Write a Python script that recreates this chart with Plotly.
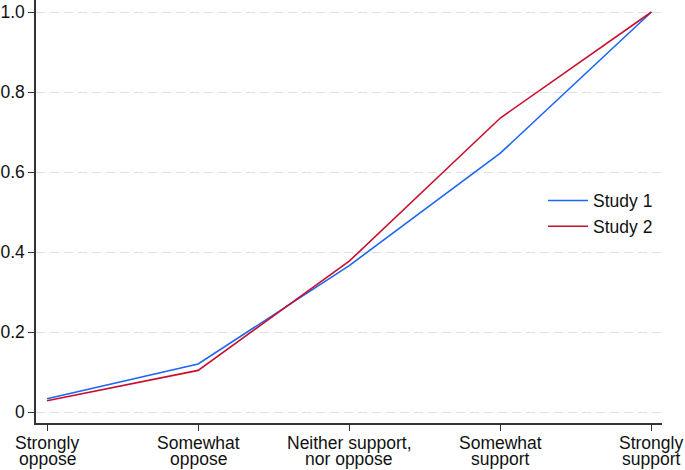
import plotly.graph_objects as go

categories = ["Strongly<br>oppose", "Somewhat<br>oppose", "Neither support,<br>nor oppose", "Somewhat<br>support", "Strongly<br>support"]
study1 = [0.033, 0.120, 0.366, 0.647, 1.0]
study2 = [0.028, 0.104, 0.377, 0.735, 1.0]
yticks = [0, 0.2, 0.4, 0.6, 0.8, 1.0]
yticklabels = ["0", "0.2", "0.4", "0.6", "0.8", "1.0"]

FS = 17.5
W, H = 685, 470
ML, MR, MT, MB = 36, 23, 0, 47
PH = H - MT - MB

xs = list(range(len(categories)))
fig = go.Figure()
fig.add_trace(go.Scatter(x=xs, y=study1, mode="lines", name="Study 1",
                         line=dict(color="#1c66f5", width=1.6)))
fig.add_trace(go.Scatter(x=xs, y=study2, mode="lines", name="Study 2",
                         line=dict(color="#c8102e", width=1.6)))

font = dict(family="Liberation Sans, Arial, Helvetica, sans-serif", size=FS, color="#111111")

# two-line category labels drawn as separate text lines (tight line spacing)
annotations = []
line_centers = [442.5, 458.5]
for xi, lab in zip(xs, categories):
    for li, part in enumerate(lab.split("<br>")):
        annotations.append(dict(
            x=xi, xref="x", y=(H - MB - line_centers[li]) / PH, yref="paper",
            text=part, showarrow=False, xanchor="center", yanchor="middle",
            font=dict(size=FS), align="center",
        ))

fig.update_layout(
    width=W, height=H,
    margin=dict(l=ML, r=MR, t=MT, b=MB),
    plot_bgcolor="white", paper_bgcolor="white",
    font=font,
    showlegend=True,
    legend=dict(x=0.81, y=0.495, xanchor="left", yanchor="middle",
                bgcolor="rgba(0,0,0,0)", font=dict(size=FS), tracegroupgap=0,
                itemwidth=40),
    annotations=annotations,
)
fig.update_xaxes(
    tickmode="array", tickvals=xs, ticktext=[""] * len(xs),
    range=[-0.073, 4.07], showgrid=False, zeroline=False, automargin=False,
    showline=True, linecolor="#333333", linewidth=1.5,
    ticks="outside", ticklen=6, tickcolor="#333333", tickwidth=1.2,
)
fig.update_yaxes(
    tickmode="array", tickvals=yticks, ticktext=yticklabels,
    range=[-0.0275, 1.03], showgrid=True, gridcolor="#e0e0e0",
    griddash="9px,5px", gridwidth=1, zeroline=False, automargin=False,
    showline=True, linecolor="#333333", linewidth=1.5,
    ticks="outside", ticklen=6, tickcolor="#333333", tickwidth=1.2,
    tickfont=dict(size=FS),
)
fig.write_html("out.html", config={"displayModeBar": False},
               post_script="document.body.style.margin='0px';")
